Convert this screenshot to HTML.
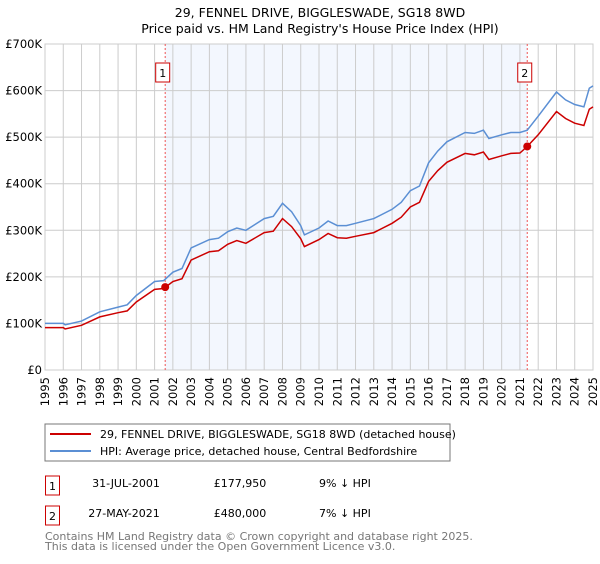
<!DOCTYPE html>
<html><head><meta charset="utf-8"><style>
body{margin:0;background:#fff;font-family:"DejaVu Sans","Liberation Sans",sans-serif;}
svg text{font-family:"DejaVu Sans","Liberation Sans",sans-serif;}
</style></head><body>
<svg id="chart" width="600" height="560" xmlns="http://www.w3.org/2000/svg">
<text x="320" y="17" text-anchor="middle" font-size="12.5">29, FENNEL DRIVE, BIGGLESWADE, SG18 8WD</text>
<text x="320" y="33" text-anchor="middle" font-size="12.5">Price paid vs. HM Land Registry's House Price Index (HPI)</text>
<g id="plot"></g>
<rect x="45" y="424" width="405" height="37" fill="#fff" stroke="#777"/>
<line x1="50" y1="434" x2="91" y2="434" stroke="#cc0000" stroke-width="2"/>
<text x="100" y="438" font-size="11">29, FENNEL DRIVE, BIGGLESWADE, SG18 8WD (detached house)</text>
<line x1="50" y1="451" x2="91" y2="451" stroke="#5b8fd4" stroke-width="2"/>
<text x="100" y="455" font-size="11">HPI: Average price, detached house, Central Bedfordshire</text>
<rect x="45.5" y="476" width="14" height="19" fill="#fff" stroke="#cc0000"/>
<text x="52.5" y="490" font-size="11" text-anchor="middle">1</text>
<text x="126" y="487" font-size="11" text-anchor="middle">31-JUL-2001</text>
<text x="240" y="487" font-size="11" text-anchor="middle">£177,950</text>
<text x="319" y="487" font-size="11">9% ↓ HPI</text>
<rect x="45.5" y="506" width="14" height="19" fill="#fff" stroke="#cc0000"/>
<text x="52.5" y="520" font-size="11" text-anchor="middle">2</text>
<text x="124" y="517" font-size="11" text-anchor="middle">27-MAY-2021</text>
<text x="240" y="517" font-size="11" text-anchor="middle">£480,000</text>
<text x="319" y="517" font-size="11">7% ↓ HPI</text>
<text x="45" y="540" font-size="11" fill="#777">Contains HM Land Registry data © Crown copyright and database right 2025.</text>
<text x="45" y="550" font-size="11" fill="#777">This data is licensed under the Open Government Licence v3.0.</text>
</svg>
<script>
const years=[1995,1996,1996.1,1997,1998,1999,1999.5,2000,2001,2001.5,2002,2002.5,2003,2004,2004.5,2005,2005.5,2006,2007,2007.5,2008,2008.5,2009,2009.2,2010,2010.5,2011,2011.5,2012,2013,2014,2014.5,2015,2015.5,2016,2016.5,2017,2018,2018.5,2019,2019.3,2020,2020.5,2021,2021.4,2022,2023,2023.5,2024,2024.5,2024.8,2025];
const hpiValues=[100,100,97,105,125,135,140,160,190,192,210,218,262,280,283,297,305,300,325,330,358,340,310,290,305,320,310,310,315,325,345,360,385,395,445,470,490,510,508,515,497,505,510,510,515,545,597,580,570,565,605,610];
const propertyValues=[91,91,88,96,114,123,127,146,173,175,190,196,236,254,256,270,278,272,295,298,325,308,282,265,280,293,284,283,287,295,315,328,350,360,405,428,446,465,462,468,452,460,465,466,480,505,555,540,530,525,560,565];
const yTicks=[0,100,200,300,400,500,600,700];
const yTickLabels=["£0","£100K","£200K","£300K","£400K","£500K","£600K","£700K"];
const xTicks=[1995,1996,1997,1998,1999,2000,2001,2002,2003,2004,2005,2006,2007,2008,2009,2010,2011,2012,2013,2014,2015,2016,2017,2018,2019,2020,2021,2022,2023,2024,2025];
const saleDates=[2001.58,2021.4];
const salePrices=[177.95,480];
const saleLabels=["1","2"];
const X0=45,X1=593,Y0=370,Y1=44;
const xs=v=>X0+(v-1995)/30*(X1-X0);
const ys=v=>Y0-v/700*(Y0-Y1);
const NS="http://www.w3.org/2000/svg";
const g=document.getElementById('plot');
function mk(t,a){const e=document.createElementNS(NS,t);for(const k in a)e.setAttribute(k,a[k]);g.appendChild(e);return e;}
let e=mk('rect',{x:xs(saleDates[0]),y:Y1,width:xs(saleDates[1])-xs(saleDates[0]),height:Y0-Y1,fill:'#eef3fd',opacity:0.7});


xTicks.forEach(t=>{
 let l=mk('line',{x1:xs(t),x2:xs(t),y1:Y1,y2:Y0,stroke:'#ccc','stroke-width':1});
 
 
 let tx=mk('text',{x:0,y:0,'font-size':11.5,'text-anchor':'end',transform:`translate(${xs(t)+4},${Y0+7}) rotate(-90)`});
 tx.textContent=t;
 
 
});
yTicks.forEach((t,i)=>{
 let l=mk('line',{x1:X0,x2:X1,y1:ys(t),y2:ys(t),stroke:'#ccc','stroke-width':1});
 
 
 let tx=mk('text',{x:X0-3,y:ys(t)+4,'font-size':11.5,'text-anchor':'end'});
 tx.textContent=yTickLabels[i];
 
 
});
let fr=mk('rect',{x:X0,y:Y1,width:X1-X0,height:Y0-Y1,fill:'none',stroke:'#ccc'});


saleDates.forEach((d,i)=>{
 let l=mk('line',{x1:xs(d),x2:xs(d),y1:Y1,y2:Y0,stroke:'#e55','stroke-width':1,'stroke-dasharray':'2,2'});
 
 
 let b=mk('rect',{x:xs(d)-9.5,y:63,width:14,height:19,fill:'#fff',stroke:'#cc0000'});
 
 
 let t=mk('text',{x:xs(d)-2.5,y:77,'font-size':11,'text-anchor':'middle'});
 t.textContent=saleLabels[i];
 
 
});
function path(vals){return vals.map((v,i)=>(i?'L':'M')+xs(years[i]).toFixed(1)+','+ys(v).toFixed(1)).join('');}
let hp=mk('path',{d:path(hpiValues),fill:'none',stroke:'#5b8fd4','stroke-width':1.5});


let pp=mk('path',{d:path(propertyValues),fill:'none',stroke:'#cc0000','stroke-width':1.5});


saleDates.forEach((d,i)=>{
 let c=mk('circle',{cx:xs(d),cy:ys(salePrices[i]),r:4,fill:'#cc0000'});
 
 
});
</script>
</body></html>
